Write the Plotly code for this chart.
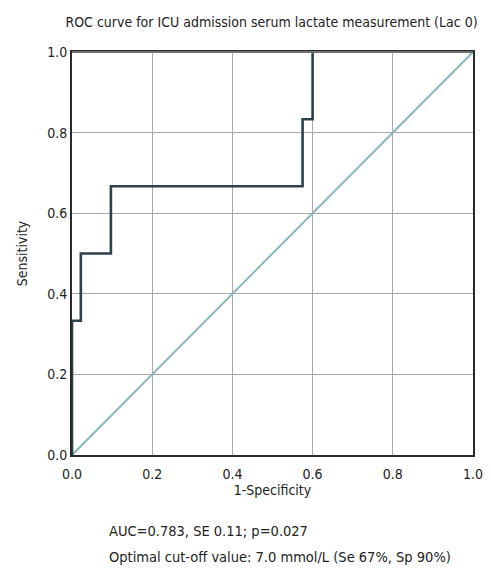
import plotly.graph_objects as go

# ROC curve data (1-Specificity, Sensitivity)
fpr = [0.0, 0.0, 0.022, 0.022, 0.097, 0.097, 0.575, 0.575, 0.600, 0.600]
tpr = [0.0, 0.333, 0.333, 0.500, 0.500, 0.667, 0.667, 0.833, 0.833, 1.0]

ref_x = [0.0, 1.0]
ref_y = [0.0, 1.0]

tick_vals = [0.0, 0.2, 0.4, 0.6, 0.8, 1.0]
tick_text = ["0.0", "0.2", "0.4", "0.6", "0.8", "1.0"]

title_text = "ROC curve for ICU admission serum lactate measurement (Lac 0)"
note_lines = ["AUC=0.783, SE 0.11; p=0.027",
              "Optimal cut-off value: 7.0 mmol/L (Se 67%, Sp 90%)"]

FONT = "DejaVu Sans Condensed, Liberation Sans Narrow, sans-serif"
FS = 14

# page body has an 8px margin; figure is sized to fit inside the window
W, H = 483, 562
L, R, T, B = 64, 18, 44, 115

fig = go.Figure()
fig.add_trace(go.Scatter(x=ref_x, y=ref_y, mode="lines",
                         line=dict(color="#8ab6bb", width=2),
                         hoverinfo="skip", showlegend=False))
fig.add_trace(go.Scatter(x=fpr, y=tpr, mode="lines",
                         line=dict(color="#2f4249", width=2.6),
                         showlegend=False))

axis_common = dict(range=[0, 1], tickvals=tick_vals, ticktext=tick_text,
                   showgrid=True, gridcolor="#a8a8a8", gridwidth=1.3,
                   zeroline=False, showline=True, linecolor="#2a2a2a",
                   linewidth=2, mirror=True, ticks="", automargin=False,
                   tickfont=dict(family=FONT, size=FS, color="#222"))

fig.update_layout(
    width=W, height=H,
    margin=dict(l=L, r=R, t=T, b=B),
    paper_bgcolor="white", plot_bgcolor="white",
    font=dict(family=FONT, color="#222"),
    title=dict(text=title_text, x=263.5 / W, xanchor="center", y=1 - 14 / H,
               yanchor="middle", font=dict(family=FONT, size=FS, color="#222")),
    xaxis=dict(**axis_common, ticklabelstandoff=5,
               title=dict(text="1-Specificity", standoff=2,
                          font=dict(family=FONT, size=FS, color="#222"))),
    yaxis=dict(**axis_common, title=dict(text="Sensitivity", standoff=16,
               font=dict(family=FONT, size=FS, color="#222"))),
)

# lighter top border
fig.add_shape(type="line", xref="paper", yref="paper", x0=0, x1=1, y0=1, y1=1,
              line=dict(color="#707070", width=2))

pw = W - L - R
ph = H - T - B
for i, line in enumerate(note_lines):
    fig.add_annotation(text=line, xref="paper", yref="paper",
                       x=(107 - 72) / pw, xanchor="left",
                       y=-(531 + 26 * i - 455) / ph, yanchor="middle",
                       showarrow=False,
                       font=dict(family=FONT, size=14.5, color="#222"))

fig.write_html("out.html")
